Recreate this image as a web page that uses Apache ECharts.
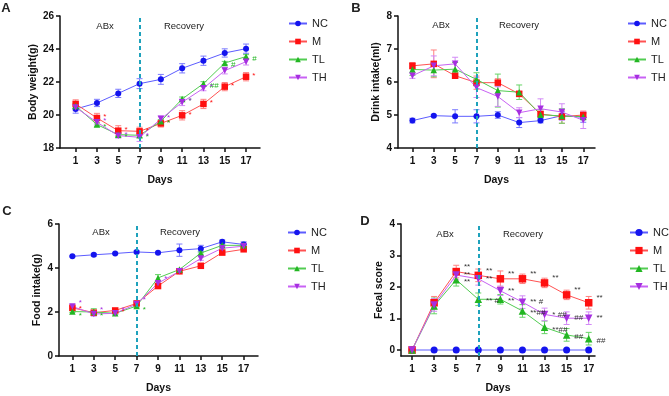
<!DOCTYPE html>
<html>
<head>
<meta charset="utf-8">
<script src="https://cdn.jsdelivr.net/npm/echarts@6/dist/echarts.min.js"></script>
<style>
  html, body {margin: 0; padding: 0; background: #fff;}
  #chart {width: 669px; height: 396px;}
</style>
</head>
<body>
<div id="chart"></div>
<script>
const days = [1, 3, 5, 7, 9, 11, 13, 15, 17];
const groups = ['NC', 'M', 'TL', 'TH'];

// A - body weight
const A_yTicks = [18, 20, 22, 24, 26];
const A_NC = [20.36, 20.73, 21.31, 21.9, 22.16, 22.83, 23.29, 23.76, 24.02];
const A_M = [20.67, 19.82, 19.05, 19.01, 19.49, 19.98, 20.67, 21.72, 22.32];
const A_TL = [20.55, 19.42, 18.81, 18.77, 19.62, 20.97, 21.9, 23.15, 23.54];
const A_TH = [20.46, 19.56, 18.75, 18.65, 19.76, 20.77, 21.62, 22.69, 23.23];
const A_NC_err = [0.25, 0.22, 0.25, 0.3, 0.3, 0.28, 0.28, 0.25, 0.28];
const A_M_err = [0.25, 0.28, 0.3, 0.25, 0.22, 0.28, 0.28, 0.25, 0.25];
const A_TL_err = [0.15, 0.1, 0.1, 0.12, 0.1, 0.12, 0.12, 0.1, 0.12];
const A_TH_err = [0.2, 0.15, 0.15, 0.25, 0.2, 0.2, 0.15, 0.2, 0.2];
const A_M_sig = ['', '*', '*', '*', '*', '*', '*', '*', '*'];
const A_TL_sig = ['', '*', '*', '*', '*', '*', '##', '#', '#'];
const A_TH_sig = ['', '*', '*', '*', '*', '*', '*', '', ''];

// B - drink intake
const B_yTicks = [4, 5, 6, 7, 8];
const B_NC = [4.83, 4.98, 4.96, 4.96, 5.0, 4.77, 4.83, 4.98, 4.93];
const B_M = [6.49, 6.55, 6.19, 5.98, 5.98, 5.64, 5.03, 4.95, 5.0];
const B_TL = [6.38, 6.36, 6.39, 6.08, 5.74, 5.69, 5.01, 4.97, 4.95];
const B_TH = [6.19, 6.49, 6.55, 5.83, 5.56, 5.07, 5.19, 5.09, 4.84];
const B_NC_err = [0.07, 0.03, 0.2, 0.2, 0.1, 0.15, 0.07, 0.12, 0.15];
const B_M_err = [0.1, 0.42, 0.06, 0.2, 0.12, 0.08, 0.08, 0.2, 0.12];
const B_TL_err = [0.18, 0.2, 0.2, 0.2, 0.5, 0.22, 0.15, 0.22, 0.1];
const B_TH_err = [0.08, 0.3, 0.2, 0.3, 0.3, 0.15, 0.3, 0.25, 0.25];

// C - food intake
const C_yTicks = [0, 2, 4, 6];
const C_NC = [4.53, 4.6, 4.66, 4.73, 4.69, 4.81, 4.88, 5.19, 5.07];
const C_M = [2.19, 1.97, 2.07, 2.39, 3.18, 3.85, 4.1, 4.7, 4.85];
const C_TL = [2.02, 2.0, 1.94, 2.27, 3.55, 3.93, 4.68, 5.03, 5.03];
const C_TH = [2.25, 1.91, 1.94, 2.36, 3.31, 3.85, 4.43, 4.9, 4.99];
const C_NC_err = [0.03, 0.06, 0.04, 0.05, 0.04, 0.28, 0.15, 0.08, 0.12];
const C_M_err = [0.05, 0.05, 0.05, 0.05, 0.06, 0.06, 0.1, 0.05, 0.05];
const C_TL_err = [0.04, 0.15, 0.05, 0.05, 0.15, 0.05, 0.05, 0.04, 0.04];
const C_TH_err = [0.08, 0.1, 0.05, 0.05, 0.05, 0.05, 0.08, 0.05, 0.15];
const C_M_sig = ['*', '', '*', '', '', '', '', '', ''];
const C_TL_sig = ['*', '*', '', '*', '', '', '', '', ''];
const C_TH_sig = ['*', '*', '*', '*', '*', '', '', '', ''];

// D - fecal score
const D_yTicks = [0, 1, 2, 3, 4];
const D_NC = [0, 0, 0, 0, 0, 0, 0, 0, 0];
const D_M = [0, 1.5, 2.49, 2.37, 2.26, 2.26, 2.13, 1.75, 1.5];
const D_TL = [0, 1.4, 2.23, 1.61, 1.61, 1.24, 0.72, 0.48, 0.36];
const D_TH = [0, 1.43, 2.38, 2.26, 1.88, 1.52, 1.13, 1.01, 1.01];
const D_NC_err = [0, 0, 0, 0, 0, 0, 0, 0, 0];
const D_M_err = [0, 0.2, 0.2, 0.2, 0.25, 0.15, 0.15, 0.15, 0.2];
const D_TL_err = [0, 0.25, 0.2, 0.2, 0.15, 0.2, 0.2, 0.2, 0.2];
const D_TH_err = [0, 0.2, 0.15, 0.2, 0.15, 0.2, 0.2, 0.2, 0.2];
const D_M_sig = ['', '', '**', '**', '**', '**', '**', '**', '**'];
const D_TL_sig = ['', '', '**', '** #', '**', '**##', '**##', '##', '##'];
const D_TH_sig = ['', '', '**', '**', '**', '** #', '* ##', '##', '**'];

const FONT = 'Arial, "Liberation Sans", sans-serif';
const style = {
  NC: {mark: '#1414ee', line: '#5c5cff', err: '#7a7aff', symbol: 'circle', rotate: 0},
  M: {mark: '#ff1010', line: '#ff5252', err: '#ff8080', symbol: 'rect', rotate: 0},
  TL: {mark: '#22b622', line: '#52cc52', err: '#66d466', symbol: 'triangle', rotate: 0},
  TH: {mark: '#a62ee0', line: '#c862f4', err: '#d28af6', symbol: 'triangle', rotate: 180},
};

const panels = [
  {grid: {left: 60, top: 16, width: 200, height: 132}, x: [-0.47, 18.31], y: [18, 26], ticks: A_yTicks,
    name: 'Body weight(g)', nameGap: 21, vals: [A_NC, A_M, A_TL, A_TH], errs: [A_NC_err, A_M_err, A_TL_err, A_TH_err],
    sigs: [null, A_M_sig, A_TL_sig, A_TH_sig], sigOff: [null, [2, -1], [2, 2], [2, -1]], sigColor: null,
    size: 6, legend: {left: 283, top: 13, h: 7}},
  {grid: {left: 398, top: 16, width: 197, height: 132}, x: [-0.35, 18.1], y: [4, 8], ticks: B_yTicks,
    name: 'Drink intake(ml)', nameGap: 16, vals: [B_NC, B_M, B_TL, B_TH], errs: [B_NC_err, B_M_err, B_TL_err, B_TH_err],
    sigs: [null, null, null, null], sigOff: [], sigColor: null,
    size: 6, legend: {left: 622, top: 13, h: 7}},
  {grid: {left: 59, top: 224, width: 199, height: 132}, x: [-0.25, 18.34], y: [0, 6], ticks: C_yTicks,
    name: 'Food intake(g)', nameGap: 16, vals: [C_NC, C_M, C_TL, C_TH], errs: [C_NC_err, C_M_err, C_TL_err, C_TH_err],
    sigs: [null, C_M_sig, C_TL_sig, C_TH_sig], sigOff: [null, [2, 1], [2, 4], [2, -4]], sigColor: null,
    size: 6, legend: {left: 282, top: 222, h: 7}},
  {grid: {left: 401, top: 224, width: 194, height: 132}, x: [0, 17.57], y: [-0.19, 4], ticks: D_yTicks,
    name: 'Fecal score', nameGap: 16, vals: [D_NC, D_M, D_TL, D_TH], errs: [D_NC_err, D_M_err, D_TL_err, D_TH_err],
    sigs: [null, D_M_sig, D_TL_sig, D_TH_sig], sigOff: [null, [3, -5], [3, 2], [3, 0]], sigColor: '#333',
    size: 7, legend: {left: 624, top: 222, h: 9}},
];

const errorBar = color => (params, api) => {
  const x = api.value(0);
  const lo = api.value(1), hi = api.value(2);
  if (hi - lo <= 0) return;
  const top = api.coord([x, hi]);
  const bot = api.coord([x, lo]);
  const s = {stroke: color, lineWidth: 1};
  return {
    type: 'group',
    children: [
      {type: 'line', shape: {x1: top[0], y1: top[1], x2: bot[0], y2: bot[1]}, style: s},
      {type: 'line', shape: {x1: top[0] - 3, y1: top[1], x2: top[0] + 3, y2: top[1]}, style: s},
      {type: 'line', shape: {x1: bot[0] - 3, y1: bot[1], x2: bot[0] + 3, y2: bot[1]}, style: s},
    ]
  };
};

const axisLine = {lineStyle: {color: '#111', width: 1.5}};
const axisTick = {length: 4, lineStyle: {color: '#111', width: 1.5}};
const labelFont = {fontFamily: FONT, fontWeight: 'bold', fontSize: 10, color: '#111'};
const nameFont = {fontFamily: FONT, fontWeight: 'bold', fontSize: 10.5, color: '#111'};

const grid = [], xAxis = [], yAxis = [], series = [], legend = [];
panels.forEach((p, k) => {
  grid.push({...p.grid, containLabel: false, outerBoundsMode: 'none'});
  xAxis.push({
    type: 'value', gridIndex: k, min: p.x[0], max: p.x[1],
    name: 'Days', nameLocation: 'middle', nameGap: 27, nameTextStyle: nameFont,
    axisLine: {...axisLine, onZero: false},
    axisTick: {...axisTick, customValues: days},
    axisLabel: {...labelFont, margin: 8, customValues: days},
    splitLine: {show: false},
  });
  yAxis.push({
    type: 'value', gridIndex: k, min: p.y[0], max: p.y[1],
    name: p.name, nameLocation: 'middle', nameGap: p.nameGap, nameTextStyle: nameFont,
    axisLine: {...axisLine, show: true, onZero: false},
    axisTick: {...axisTick, show: true, customValues: p.ticks},
    axisLabel: {...labelFont, margin: 6, customValues: p.ticks},
    splitLine: {show: false},
  });
  legend.push({
    orient: 'vertical', left: p.legend.left, top: p.legend.top,
    itemWidth: 18, itemHeight: p.legend.h, itemGap: 7,
    textStyle: {fontFamily: FONT, fontSize: 11, color: '#222'},
    data: groups,
  });
  groups.forEach((g, j) => {
    const st = style[g];
    const vals = p.vals[j];
    const errs = p.errs[j];
    const sig = p.sigs[j];
    const line = {
      type: 'line', name: g, xAxisIndex: k, yAxisIndex: k, z: 3,
      data: days.map((d, i) => [d, vals[i]]),
      symbol: st.symbol, symbolRotate: st.rotate,
      symbolSize: st.symbol === 'circle' ? p.size : p.size + 0.5,
      itemStyle: {color: st.mark},
      lineStyle: {color: st.line, width: 1},
      emphasis: {disabled: true},
      label: sig ? {
        show: true, position: 'right', distance: 1, offset: p.sigOff[j],
        fontFamily: FONT, fontSize: 8, color: p.sigColor || st.mark,
        formatter: q => sig[q.dataIndex],
      } : {show: false},
    };
    if (j === 0) {
      line.markLine = {
        silent: true, symbol: 'none', animation: false,
        label: {show: false},
        lineStyle: {color: '#1ea2bc', width: 2, type: [4, 3]},
        data: [{xAxis: 7}],
      };
    }
    series.push(line);
    // error bars get their own name so the legend picks up the line series
    series.push({
      type: 'custom', name: g + ' sem', xAxisIndex: k, yAxisIndex: k, z: 2,
      renderItem: errorBar(st.err),
      encode: {x: 0, y: [1, 2]},
      data: days.map((d, i) => [d, vals[i] - errs[i], vals[i] + errs[i]]),
    });
  });
});

const txt = (text, x, y, size, bold) => ({
  type: 'text', x, y, silent: true,
  style: {text, fill: '#222', font: (bold ? 'bold ' : '') + size + 'px ' + FONT,
    align: 'center', verticalAlign: 'middle', textAlign: 'center', textVerticalAlign: 'middle'},
});

const chart = echarts.init(document.getElementById('chart'));
chart.setOption({
  animation: false,
  backgroundColor: '#fff',
  grid, xAxis, yAxis, series, legend,
  graphic: [
    txt('A', 6, 8, 13, true), txt('B', 356, 8, 13, true),
    txt('C', 7, 211, 13, true), txt('D', 365, 221, 13, true),
    txt('ABx', 105, 26, 9.5), txt('Recovery', 184, 26, 9.5),
    txt('ABx', 441, 25, 9.5), txt('Recovery', 519, 25, 9.5),
    txt('ABx', 101, 232, 9.5), txt('Recovery', 180, 232, 9.5),
    txt('ABx', 445, 234, 9.5), txt('Recovery', 523, 234, 9.5),
  ],
});
</script>
</body>
</html>
